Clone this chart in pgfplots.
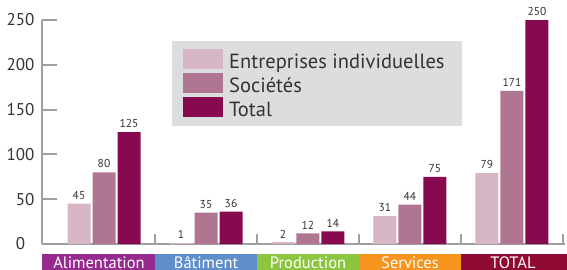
\documentclass[border=0pt]{standalone}
\usepackage{fontspec}
\setmainfont{PT Sans}
\usepackage{pgfplots}
\pgfplotsset{compat=1.18}
\definecolor{cEI}{HTML}{D6B5C5}
\definecolor{cSoc}{HTML}{B07590}
\definecolor{cTot}{HTML}{870A50}
\definecolor{axgrey}{HTML}{9D9FA2}
\definecolor{txt}{HTML}{333333}
\definecolor{legbg}{HTML}{DCDDDE}
\definecolor{bandA}{HTML}{972A8F}
\definecolor{bandB}{HTML}{5F8FCB}
\definecolor{bandC}{HTML}{8CC63F}
\definecolor{bandD}{HTML}{F7941E}
\definecolor{bandE}{HTML}{8F0A30}
\begin{document}
\begin{tikzpicture}[x=1pt,y=1pt]
\useasboundingbox (0,0) rectangle (567,269);
\begin{axis}[
  at={(42pt,25pt)}, anchor=south west, scale only axis,
  width=523pt, height=224pt,
  xmin=-0.608, xmax=4.52, ymin=0, ymax=250,
  clip=false,
  /pgf/number format/assume math mode=true,
  axis x line=bottom, axis y line=left,
  axis line style={axgrey, line width=2pt, -},
  ybar=2pt, bar width=23pt,
  tick align=inside,
  major tick length=15pt,
  xtick=\empty,
  extra x ticks={0.5,1.5,2.5,3.5,4.5},
  extra x tick labels={},
  extra x tick style={major tick length=10pt, tick style={axgrey, line width=2pt}},
  ytick={0,100,200},
  yticklabels={{0\hphantom{0}},100,200},
  extra y ticks={50,150,250},
  extra y tick labels={50,150,250},
  extra y tick style={tick style={black!85, line width=2pt}},
  y tick style={axgrey, line width=2pt},
  yticklabel style={font=\fontsize{17}{17}\selectfont, text=txt, xshift=-4pt},
  nodes near coords,
  every node near coord/.append style={font=\fontsize{11.5}{11.5}\selectfont, text=txt, inner sep=0pt, yshift=4pt},
  legend style={at={(axis description cs:0.2486,0.906)}, anchor=north west,
    fill=legbg, draw=none, inner xsep=11pt, inner ysep=8pt,
    row sep=3pt, column sep=0pt,
    font=\fontsize{20.5}{20.5}\selectfont, text=txt,
    nodes={inner xsep=6pt, inner ysep=0pt, text height=12pt, text depth=2pt}},
  legend cell align=left,
  legend image code/.code={\fill[#1] (0pt,-6pt) rectangle (40pt,14pt);},
]
\addplot[fill=cEI, draw=none] coordinates {(0,45) (1,1) (2,2) (3,31) (4,79)};
\addplot[fill=cSoc, draw=none] coordinates {(0,80) (1,35) (2,12) (3,44) (4,171)};
\addplot[fill=cTot, draw=none] coordinates {(0,125) (1,36) (2,14) (3,75) (4,250)};
\legend{Entreprises individuelles, Sociétés, Total}
\end{axis}
\fill[bandA] (42,-5) rectangle (155,15);
\fill[bandB] (155,-5) rectangle (257,15);
\fill[bandC] (257,-5) rectangle (359,15);
\fill[bandD] (359,-5) rectangle (461,15);
\fill[bandE] (461,-5) rectangle (570,15);
\begin{scope}[every node/.style={text=white, font=\fontsize{16.5}{16.5}\selectfont, anchor=base, inner sep=0pt}]
\node at (99,0.5) {Alimentation};
\node at (206,0.5) {Bâtiment};
\node at (308,0.5) {Production};
\node at (410,0.5) {Services};
\node at (513,0.5) {TOTAL};
\end{scope}
\end{tikzpicture}
\end{document}
